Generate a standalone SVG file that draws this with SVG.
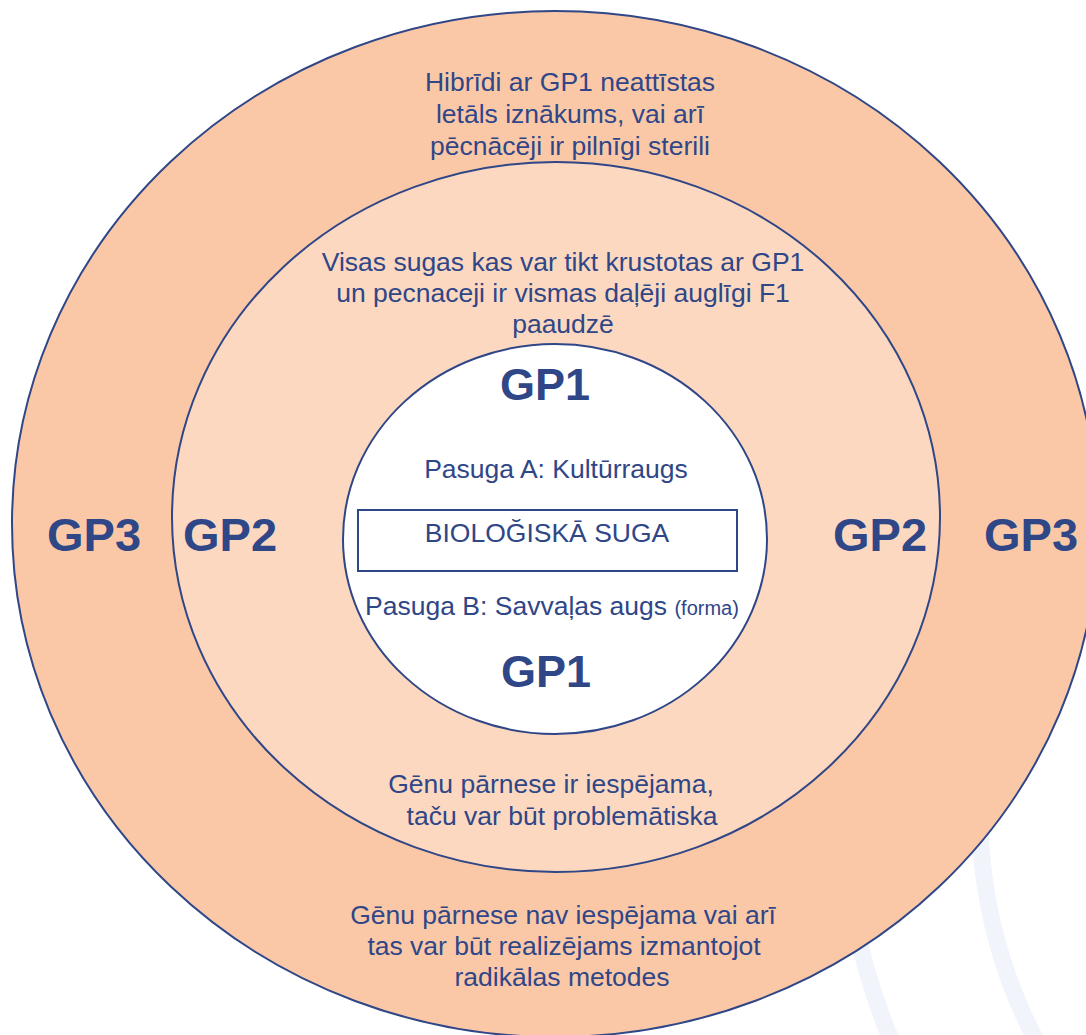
<svg xmlns="http://www.w3.org/2000/svg" width="1086" height="1035" viewBox="0 0 1086 1035">
<style>
.ring{stroke:#2f4687;stroke-width:2}
.t{font-family:"Liberation Sans",Arial,sans-serif;fill:#2f4687;text-anchor:middle}
.txt{font-size:26.5px}
.in{font-size:26.5px}
.gp{font-size:47px;font-weight:bold}
.gp1{font-size:45px;font-weight:bold}
.bg{fill:none;stroke:#f1f4fa;stroke-width:17}
</style>
<rect width="1086" height="1035" fill="#ffffff"/>
<g id="background-arcs">
<path class="bg" d="M 980 805 A 486 486 0 0 0 1050 1065"/>
<path class="bg" d="M 843 805 A 625 625 0 0 0 900 1060"/>
</g>
<g id="gp3">
<ellipse class="ring" cx="555" cy="524" rx="543" ry="513" fill="#fbc8a7"/>
<text class="t txt" x="570" y="91">Hibrīdi ar GP1 neattīstas</text>
<text class="t txt" x="570" y="123">letāls iznākums, vai arī</text>
<text class="t txt" x="570" y="155">pēcnācēji ir pilnīgi sterili</text>
<text class="t gp" x="94" y="551">GP3</text>
<text class="t gp" x="1031" y="551">GP3</text>
<text class="t txt" x="563" y="924">Gēnu pārnese nav iespējama vai arī</text>
<text class="t txt" x="564" y="955">tas var būt realizējams izmantojot</text>
<text class="t txt" x="562" y="986">radikālas metodes</text>
</g>
<g id="gp2">
<ellipse class="ring" cx="556" cy="517" rx="384" ry="355" fill="#fcd8c0"/>
<text class="t txt" x="563" y="271">Visas sugas kas var tikt krustotas ar GP1</text>
<text class="t txt" x="563" y="302">un pecnaceji ir vismas daļēji auglīgi F1</text>
<text class="t txt" x="563" y="333">paaudzē</text>
<text class="t gp" x="230" y="551">GP2</text>
<text class="t gp" x="880" y="551">GP2</text>
<text class="t txt" x="551" y="793">Gēnu pārnese ir iespējama,</text>
<text class="t txt" x="562" y="825">taču var būt problemātiska</text>
</g>
<g id="gp1">
<ellipse class="ring" cx="555" cy="539" rx="212" ry="195" fill="#ffffff"/>
<text class="t gp1" x="545" y="400">GP1</text>
<text class="t in" x="556" y="478">Pasuga A: Kultūrraugs</text>
<text class="t in" x="552" y="615">Pasuga B: Savvaļas augs <tspan font-size="20">(forma)</tspan></text>
<text class="t gp1" x="546" y="687">GP1</text>
</g>
<g id="species-box">
<rect x="358" y="510" width="379" height="61" fill="#ffffff" stroke="#2f4687" stroke-width="2"/>
<text class="t in" x="547" y="542">BIOLOĞISKĀ SUGA</text>
</g>
<g id="connectors"/>
</svg>
